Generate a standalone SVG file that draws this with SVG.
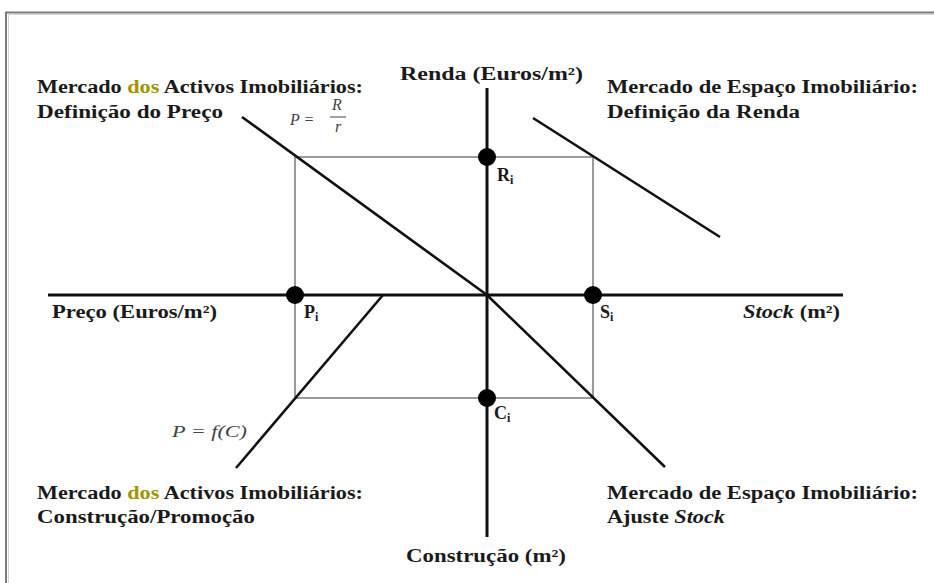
<svg xmlns="http://www.w3.org/2000/svg" width="934" height="583" viewBox="0 0 934 583">
<style>
.lbl{font-family:"Liberation Serif","DejaVu Serif",serif;font-weight:bold;font-size:18px;fill:#1a1a1a}
.sub{font-size:12px}
.frm{font-family:"Liberation Serif","DejaVu Serif",serif;font-style:italic;font-size:16px;fill:#444}
.ax{stroke:#111;stroke-width:3;fill:none}
.crv{stroke:#111;stroke-width:2.6;fill:none}
.grd{stroke:#9a9a9a;stroke-width:2;fill:none}
.dot{fill:#000}
.hl{fill:#a39400}
</style>
<rect x="0" y="0" width="934" height="583" fill="#fff"/>
<g id="frame">
<path d="M6,583 V12.5 H934" stroke="#7a7a7a" stroke-width="2" fill="none"/>
<path d="M8.5,583 V14.5 H934" stroke="#d6d6d6" stroke-width="1" fill="none"/>
</g>
<g id="connectors">
<rect class="grd" x="295" y="157" width="298" height="241"/>
<line class="ax" x1="487" y1="88" x2="487" y2="537"/>
<line class="ax" x1="48" y1="295" x2="843" y2="295"/>
<polyline class="crv" points="242,117 487,295 665,467"/>
<line class="crv" x1="533" y1="118" x2="720" y2="237"/>
<line class="crv" x1="383" y1="295" x2="236" y2="468"/>
</g>
<g id="node-Ri"><circle class="dot" cx="487" cy="157" r="9"/><text class="lbl" x="497" y="181">R<tspan class="sub" dy="3">i</tspan></text></g>
<g id="node-Pi"><circle class="dot" cx="295" cy="295" r="9"/><text class="lbl" x="304" y="318">P<tspan class="sub" dy="3">i</tspan></text></g>
<g id="node-Si"><circle class="dot" cx="593" cy="295" r="9"/><text class="lbl" x="600" y="318">S<tspan class="sub" dy="3">i</tspan></text></g>
<g id="node-Ci"><circle class="dot" cx="487" cy="398" r="9"/><text class="lbl" x="494" y="419">C<tspan class="sub" dy="3">i</tspan></text></g>
<g id="axis-labels">
<text class="lbl" x="400" y="80" textLength="183" lengthAdjust="spacingAndGlyphs">Renda (Euros/m²)</text>
<text class="lbl" x="52" y="318" textLength="165" lengthAdjust="spacingAndGlyphs">Preço (Euros/m²)</text>
<text class="lbl" x="743" y="318" textLength="97" lengthAdjust="spacingAndGlyphs"><tspan font-style="italic">Stock</tspan> (m²)</text>
<text class="lbl" x="406" y="562" textLength="160" lengthAdjust="spacingAndGlyphs">Construção (m²)</text>
</g>
<g id="quadrant-NW">
<text class="lbl" x="37" y="93" textLength="326" lengthAdjust="spacingAndGlyphs">Mercado <tspan class="hl">dos</tspan> Activos Imobiliários:</text>
<text class="lbl" x="37" y="118" textLength="186" lengthAdjust="spacingAndGlyphs">Definição do Preço</text>
<text class="frm" x="290" y="125">P =</text>
<text class="frm" x="332" y="110">R</text>
<line x1="330" y1="117" x2="346" y2="117" stroke="#444" stroke-width="1"/>
<text class="frm" x="335" y="132">r</text>
</g>
<g id="quadrant-NE">
<text class="lbl" x="607" y="93" textLength="311" lengthAdjust="spacingAndGlyphs">Mercado de Espaço Imobiliário:</text>
<text class="lbl" x="607" y="118" textLength="193" lengthAdjust="spacingAndGlyphs">Definição da Renda</text>
</g>
<g id="quadrant-SW">
<text class="frm" x="172" y="437" textLength="75" lengthAdjust="spacingAndGlyphs">P = f(C)</text>
<text class="lbl" x="37" y="499" textLength="326" lengthAdjust="spacingAndGlyphs">Mercado <tspan class="hl">dos</tspan> Activos Imobiliários:</text>
<text class="lbl" x="37" y="523" textLength="218" lengthAdjust="spacingAndGlyphs">Construção/Promoção</text>
</g>
<g id="quadrant-SE">
<text class="lbl" x="607" y="499" textLength="311" lengthAdjust="spacingAndGlyphs">Mercado de Espaço Imobiliário:</text>
<text class="lbl" x="607" y="523" textLength="118" lengthAdjust="spacingAndGlyphs">Ajuste <tspan font-style="italic">Stock</tspan></text>
</g>
</svg>
